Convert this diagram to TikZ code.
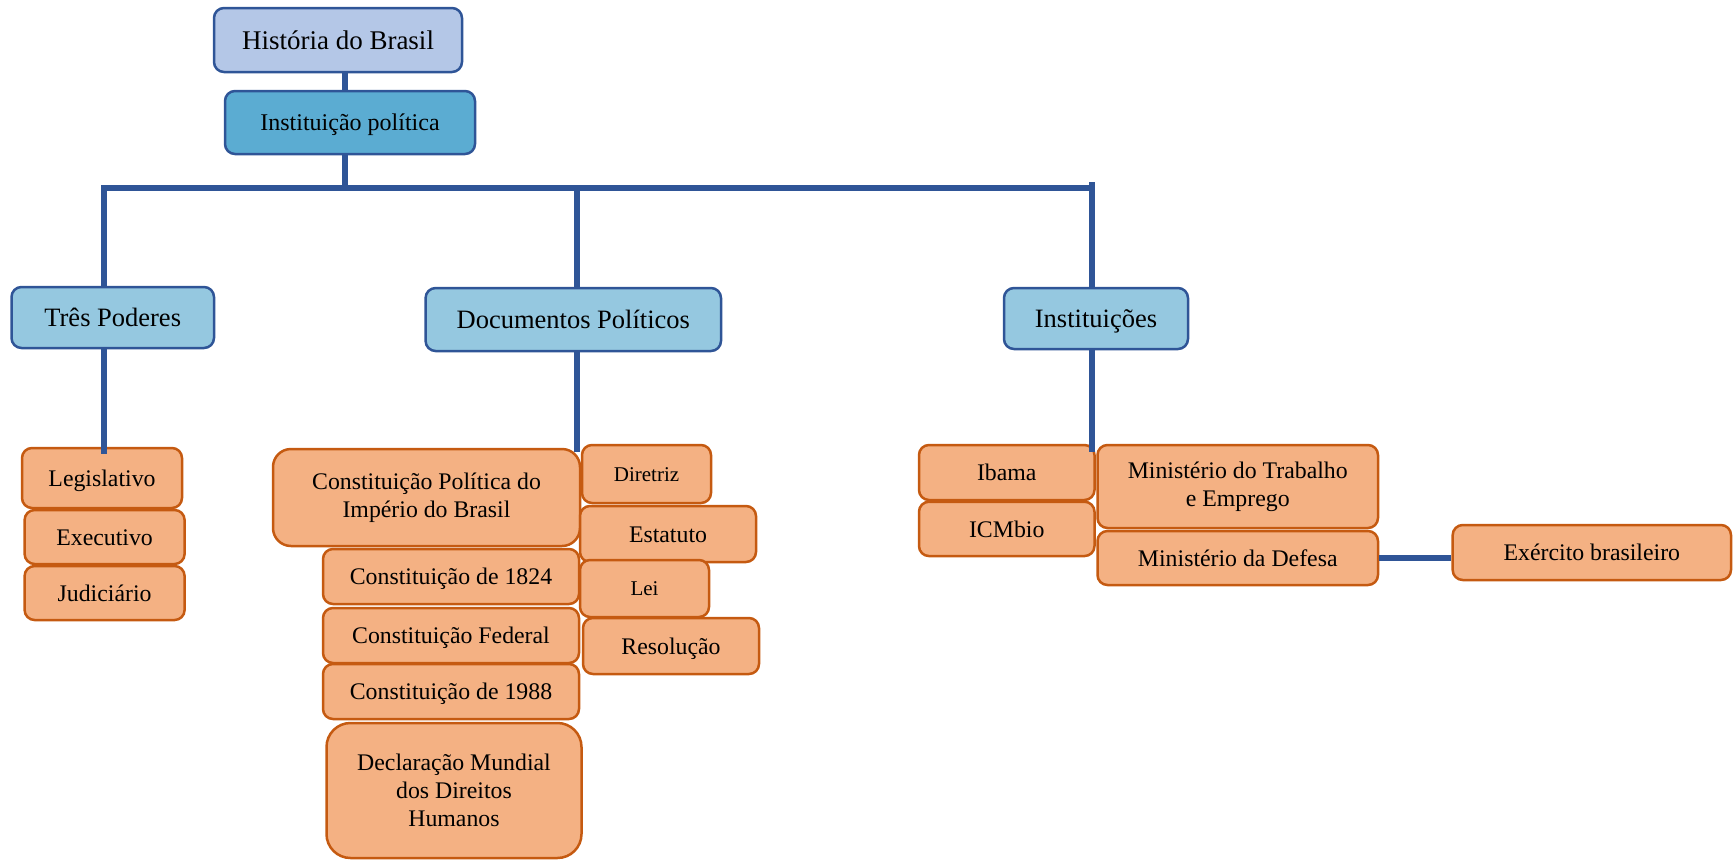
\documentclass[tikz,border=0pt]{standalone}
\usepackage{fontspec}
\setmainfont{Liberation Serif}
\definecolor{linkblue}{HTML}{2F5597}
\definecolor{rootfill}{HTML}{B4C7E7}
\definecolor{midfill}{HTML}{5BACD2}
\definecolor{branchfill}{HTML}{95C8E0}
\definecolor{leaffill}{HTML}{F4B183}
\definecolor{leafline}{HTML}{C55A11}
\begin{document}
\begin{tikzpicture}[x=1pt,y=-1pt,
  box/.style={rounded corners=10pt, line width=2.5pt, inner sep=0pt, align=center},
  bluebox/.style={box, draw=linkblue},
  leafbase/.style={box, draw=leafline, fill=leaffill, font=\fontsize{23.8}{28.2}\selectfont},
  leaf/.style={leafbase, text height=16.6pt, text depth=0pt},
  smallleaf/.style={leafbase, font=\fontsize{21}{25}\selectfont, text height=14.6pt, text depth=0pt},
  conn/.style={draw=linkblue, line width=5.5pt},
]
\useasboundingbox (0,0) rectangle (1733,860);

% top of the hierarchy
\node[bluebox, fill=rootfill, minimum width=248pt, minimum height=64pt,
  font=\fontsize{27}{32}\selectfont, text height=18.4pt, text depth=0pt] (hist) at (338,40) {História do Brasil};
\node[bluebox, fill=midfill, minimum width=250pt, minimum height=63pt,
  font=\fontsize{24}{29}\selectfont, text height=16.3pt, text depth=0pt] (inst) at (350,122.5) {Instituição política};

% second level
\begin{scope}[every node/.append style={bluebox, fill=branchfill, font=\fontsize{26.5}{31}\selectfont,
    text height=18.5pt, text depth=0pt}]
\node[minimum width=202.5pt, minimum height=61pt] (tres) at (112.75,317.5) {Três Poderes};
\node[minimum width=295.4pt, minimum height=63pt] (docs) at (573.3,319.5) {Documentos Políticos};
\node[minimum width=184pt, minimum height=61pt] (insts) at (1096,318.5) {Instituições};
\end{scope}

% Três Poderes
\node[leaf, minimum width=160pt, minimum height=60pt] (leg) at (102,478) {Legislativo};
\node[leaf, minimum width=160pt, minimum height=54pt] (exe) at (104.6,537) {Executivo};
\node[leaf, minimum width=160pt, minimum height=54pt] (jud) at (104.6,593) {Judiciário};

% Documentos Políticos
\node[leafbase, rounded corners=18pt, minimum width=307pt, minimum height=97pt] (cpib) at (426.5,497.5)
  {Constituição Política do\\Império do Brasil};
\node[leaf, minimum width=256pt, minimum height=55pt] (c1824) at (451,576.5) {Constituição de 1824};
\node[leaf, minimum width=256pt, minimum height=55pt] (cfed) at (451,635.5) {Constituição Federal};
\node[leaf, minimum width=256pt, minimum height=55pt] (c1988) at (451,691.5) {Constituição de 1988};
\node[leafbase, rounded corners=24pt, minimum width=255pt, minimum height=135pt] (dudh) at (454,790.5)
  {Declaração Mundial\\dos Direitos\\Humanos};
\node[smallleaf, minimum width=129pt, minimum height=58pt] (dir) at (646.5,474) {Diretriz};
\node[leaf, minimum width=176pt, minimum height=56pt] (est) at (668,534) {Estatuto};
\node[smallleaf, minimum width=129pt, minimum height=57pt] (lei) at (644.5,588.5) {Lei};
\node[leaf, minimum width=176pt, minimum height=56pt] (res) at (671,646) {Resolução};

% Instituições
\node[leaf, minimum width=175.5pt, minimum height=55pt] (ibama) at (1006.75,472.5) {Ibama};
\node[leaf, minimum width=175.5pt, minimum height=54.3pt] (icm) at (1006.75,528.9) {ICMbio};
\node[leafbase, minimum width=280.5pt, minimum height=83pt] (mte) at (1237.75,486.5) {Ministério do Trabalho\\e Emprego};
\node[leaf, minimum width=280.5pt, minimum height=54pt] (mdef) at (1237.75,558) {Ministério da Defesa};
\node[leaf, minimum width=278.3pt, minimum height=55pt] (exb) at (1591.85,552.5) {Exército brasileiro};

% connectors
\coordinate (busL) at (104,188);
\coordinate (busM) at (577,188);
\coordinate (busR) at (1092,188);
\draw[conn] ([xshift=7pt]hist.south) -- ([xshift=7pt]hist.south |- inst.north);
\draw[conn] ([xshift=-5pt]inst.south) -- ([xshift=-5pt]inst.south |- busL);
\draw[conn] (tres.north -| busL) |- (busR);
\draw[conn] ([yshift=6pt]busR) -- (insts.north -| busR);
\draw[conn] ([yshift=-3pt]busM) -- (docs.north -| busM);
\draw[conn] (tres.south -| busL) -- ([yshift=-7pt]leg.north -| busL);
\draw[conn] (docs.south -| busM) -- ([yshift=-8pt]dir.north -| busM);
\draw[conn] (insts.south -| busR) -- ([yshift=-8pt]ibama.north -| busR);
\draw[conn] (mdef.east) -- (mdef.east -| exb.west);
\end{tikzpicture}
\end{document}
